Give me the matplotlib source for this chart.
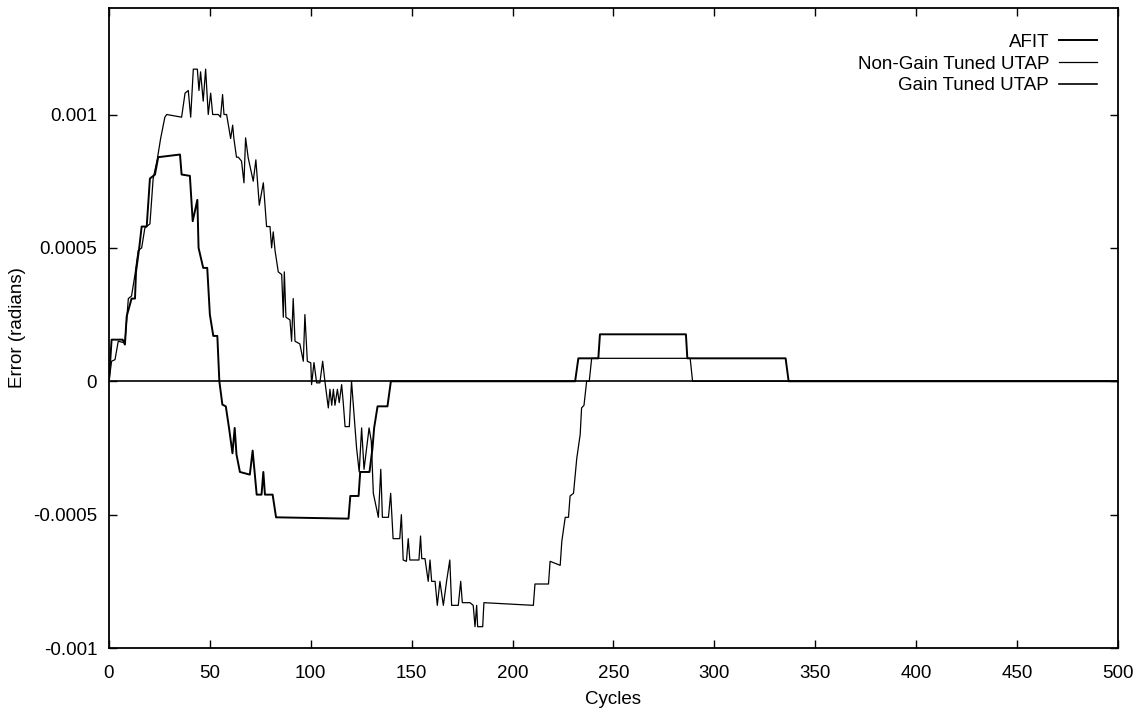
import numpy as np
import matplotlib
matplotlib.use("Agg")
import matplotlib.pyplot as plt
from matplotlib.ticker import FixedLocator, FixedFormatter

plt.rcParams['font.family'] = ['Liberation Sans', 'DejaVu Sans']

# AFIT (steppy curve with the -0.0005 plateau)
afit_x = [0, 1.3, 6.8, 7.9, 8.8, 11.2, 12.9, 13.4, 15.0, 16.2, 18.7, 20.3, 22.8, 24.4, 35.2, 36.0,
          40.1, 41.5, 43.8, 44.4, 46.7, 48.7, 50.0, 51.7, 53.7, 54.7,
          56.2, 57.9, 59.5, 61.2, 62.3, 63.2, 64.9, 69.8, 71.2, 73.2, 75.6, 76.5, 77.3, 81.1, 82.8,
          118.7, 119.6, 123.7, 124.5, 129.1, 130.6, 131.4, 133.1, 138.0, 139.7,
          231.0, 232.6, 242.5, 243.3, 285.9, 286.6, 335.3, 336.8, 500]
afit_y = [0, 0.156, 0.156, 0.1375, 0.244, 0.31, 0.31, 0.41, 0.5, 0.58, 0.58, 0.76, 0.775, 0.84, 0.85, 0.775,
          0.77, 0.6, 0.68, 0.5, 0.425, 0.425, 0.25, 0.17, 0.17, 0,
          -0.0875, -0.094, -0.175, -0.27, -0.175, -0.275, -0.34, -0.35, -0.26, -0.425, -0.425, -0.34, -0.425, -0.425, -0.51,
          -0.515, -0.43, -0.43, -0.34, -0.34, -0.25, -0.175, -0.094, -0.094, 0,
          0, 0.086, 0.086, 0.176, 0.176, 0.086, 0.086, 0, 0]

# Non-Gain Tuned UTAP (noisy curve)
ngt_x = [0, 1.3, 3.0, 4.6, 7.9, 9.6, 11.2, 12.9, 14.5, 16.2, 17.8, 20.3, 21.9, 23.9, 25.6, 27.7, 28.6,
         36.0, 37.7, 39.3, 40.5, 41.8, 43.8, 44.6, 45.4, 46.7, 47.9, 49.2, 50.4, 51.4, 54.2, 55.3,
         56.3, 57.0, 58.3, 60.3, 61.3, 61.9, 63.2, 64.1, 65.7, 66.9, 67.7, 69.0, 71.5, 72.8, 74.5,
         76.5, 77.3, 78.1, 79.8, 80.6, 81.4, 82.3, 83.9, 85.6, 86.4, 86.9, 87.7, 89.7, 90.5, 91.3,
         92.2, 94.6, 96.3, 97.1, 98.3, 100.0, 100.4, 101.6, 102.9, 104.5, 105.9, 107.0,
         108.7, 109.5, 110.4, 111.2, 112.0, 113.2, 114.1, 115.3, 116.1, 117.0, 119.1, 120.2,
         122.7, 124.0, 125.2, 126.4, 128.9, 130.0, 131.0, 133.5, 134.7, 135.5, 138.5, 139.6, 140.8,
         144.1, 144.9, 145.8, 147.4, 148.3, 149.1, 150.3, 153.6, 154.4, 155.0, 156.6, 158.2, 159.1,
         159.9, 161.6, 162.7, 164.0, 165.7, 167.3, 168.9, 169.8, 173.1, 174.3, 175.1, 178.9, 180.5,
         181.4, 182.2, 182.7, 185.2, 185.8, 210.3, 211.1, 217.8, 218.6, 223.6, 224.4, 226.1, 227.7,
         228.5, 230.2, 231.8, 233.5, 234.2, 235.4, 236.7, 238.0, 239.2, 288.0, 289.2, 500]
ngt_y = [0, 0.075, 0.081, 0.15, 0.144, 0.31, 0.32, 0.40, 0.49, 0.50, 0.575, 0.59, 0.76, 0.83, 0.91, 0.99, 1.0,
         0.99, 1.08, 1.09, 0.99, 1.17, 1.17, 1.09, 1.16, 1.05, 1.17, 1.0, 1.08, 1.0, 1.0, 0.99,
         1.075, 1.0, 1.0, 0.91, 0.96, 0.91, 0.84, 0.84, 0.825, 0.744, 0.9125, 0.8375, 0.75, 0.83, 0.66,
         0.744, 0.66, 0.58, 0.58, 0.50, 0.56, 0.49, 0.41, 0.40, 0.24, 0.41, 0.24, 0.23, 0.15, 0.31,
         0.15, 0.14, 0.075, 0.25, 0.075, 0.069, -0.0125, 0.07, -0.006, -0.006, 0.075, 0,
         -0.1, -0.03, -0.09, -0.03, -0.09, -0.03, -0.08, -0.0125, -0.08, -0.17, -0.17, 0,
         -0.25, -0.34, -0.175, -0.33, -0.175, -0.225, -0.42, -0.51, -0.33, -0.51, -0.51, -0.42, -0.59,
         -0.59, -0.5, -0.67, -0.675, -0.59, -0.67, -0.67, -0.67, -0.58, -0.665, -0.665, -0.75, -0.67,
         -0.75, -0.75, -0.84, -0.75, -0.84, -0.75, -0.67, -0.84, -0.84, -0.75, -0.83, -0.83, -0.84,
         -0.92, -0.84, -0.92, -0.92, -0.83, -0.84, -0.76, -0.76, -0.675, -0.69, -0.6, -0.51, -0.51,
         -0.43, -0.42, -0.29, -0.2, -0.1, -0.09, 0, 0, 0.086, 0.086, 0, 0]

# Gain Tuned UTAP (stays at zero)
gt_x = [0, 500]
gt_y = [0, 0]

x_ticks = [0, 50, 100, 150, 200, 250, 300, 350, 400, 450, 500]
y_ticks = [-0.001, -0.0005, 0, 0.0005, 0.001]
y_tick_labels = ['-0.001', '-0.0005', '0', '0.0005', '0.001']

fs = 13.5

fig = plt.figure(figsize=(11.35, 7.09), dpi=100)
ax = fig.add_axes([0.096, 0.086, 0.889, 0.903])

ax.plot(afit_x, np.array(afit_y) * 1e-3, color='black', lw=1.4, label='AFIT')
ax.plot(ngt_x, np.array(ngt_y) * 1e-3, color='black', lw=0.9, label='Non-Gain Tuned UTAP')
ax.plot(gt_x, gt_y, color='black', lw=1.2, label='Gain Tuned UTAP')

ax.set_xlim(0, 500)
ax.set_ylim(-0.001, 0.0014)
ax.xaxis.set_major_locator(FixedLocator(x_ticks))
ax.yaxis.set_major_locator(FixedLocator(y_ticks))
ax.yaxis.set_major_formatter(FixedFormatter(y_tick_labels))
ax.tick_params(direction='in', top=True, right=True, length=6, width=1, labelsize=fs)
ax.tick_params(axis='y', pad=8.5)
ax.tick_params(axis='x', pad=12)
for s in ax.spines.values():
    s.set_linewidth(1.3)

ax.set_xlabel('Cycles', fontsize=fs, labelpad=6.5)
ax.set_ylabel('Error (radians)', fontsize=fs, labelpad=5)

leg = ax.legend(loc='upper right', bbox_to_anchor=(1.0, 0.992), frameon=False, markerfirst=False,
                alignment='right', fontsize=fs, handlelength=2.0, handletextpad=0.55,
                labelspacing=0.24, borderaxespad=0.72)

fig.savefig('out.png', dpi=100)
